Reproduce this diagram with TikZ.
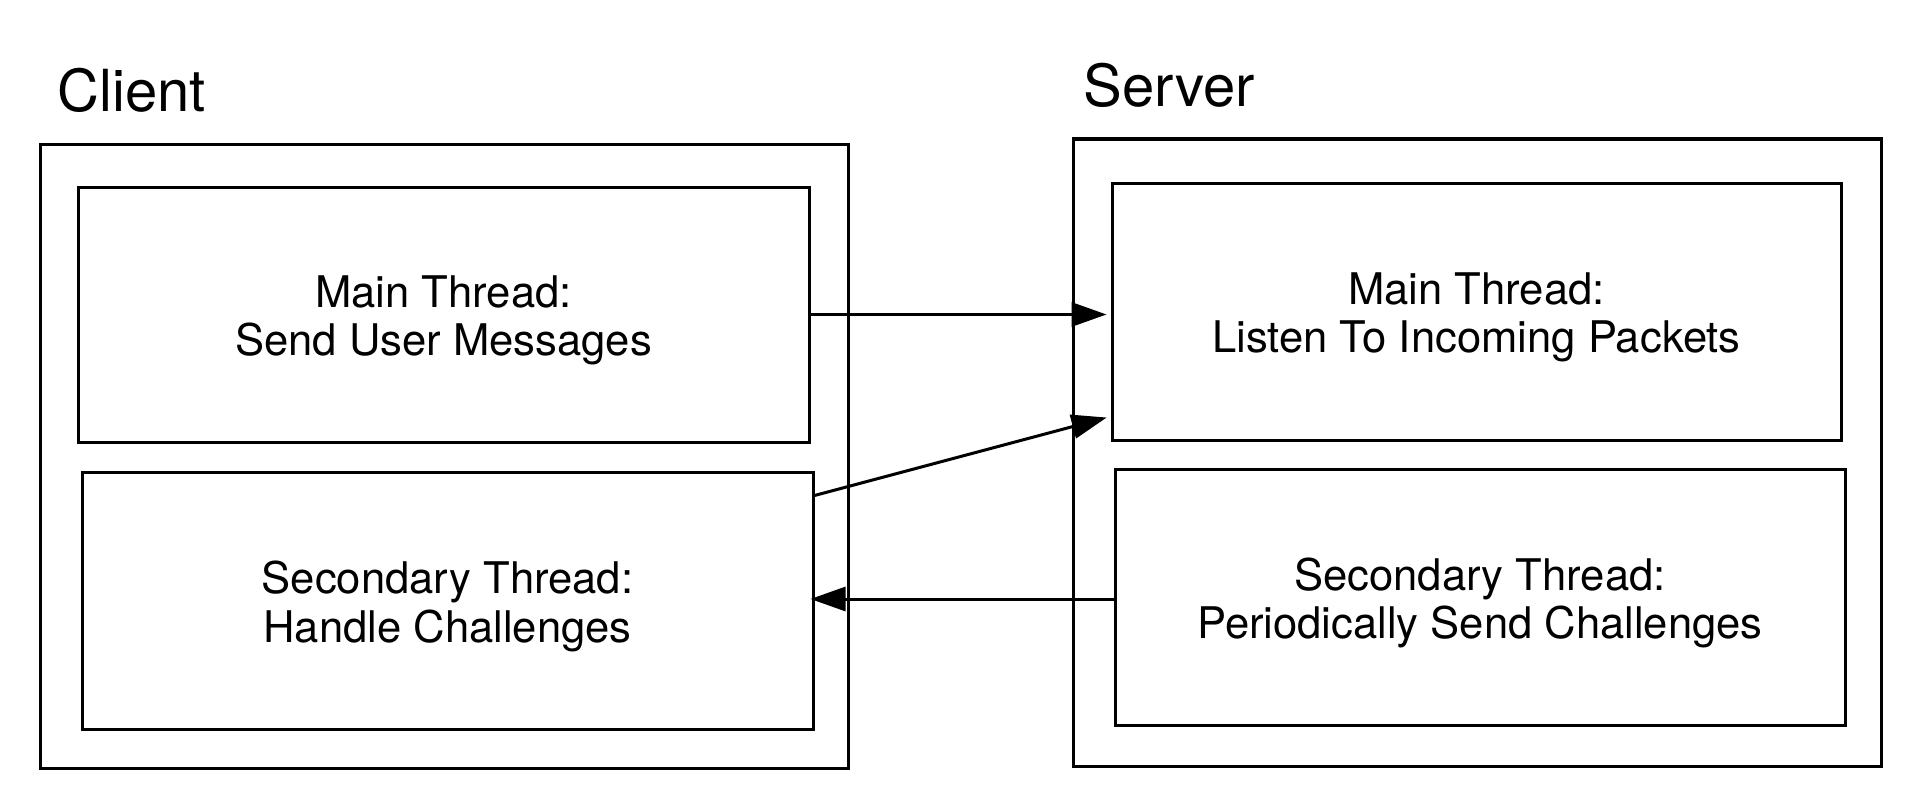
\documentclass[tikz,border=0pt]{standalone}
\usepackage{fontspec}
\setmainfont{TeX Gyre Heros}
\usetikzlibrary{arrows.meta}

\begin{document}
\begin{tikzpicture}[x=0.5pt, y=-0.5pt,
  outerbox/.style={draw, line width=1.5pt, inner sep=0pt, minimum width=404pt},
  threadbox/.style={draw, line width=1.5pt, inner sep=0pt},
  threadtext/.style={align=center, inner sep=0pt, yshift=-3pt,
    font=\fontsize{21.8}{24.2}\selectfont},
  title/.style={anchor=base west, inner sep=0pt, font=\fontsize{29}{31}\selectfont},
  msg/.style={line width=1.5pt, -{Triangle[length=17.5pt, width=12pt]}}]
\useasboundingbox (0,0) rectangle (1921,808);
\node[outerbox, minimum height=312pt] (client) at (444,456) {};
\node[outerbox, minimum height=313.5pt] (server) at (1477,452.5) {};
\node[title] (clientlbl) at (57,112) {Client};
\node[title] (serverlbl) at (1083,107) {Server};
\node[threadbox, minimum width=365.5pt, minimum height=127.5pt] (cmain) at (443.5,314.5) {};
\node[threadbox, minimum width=365.5pt, minimum height=128.5pt] (csec) at (447.5,600.5) {};
\node[threadbox, minimum width=364.5pt, minimum height=128.5pt] (smain) at (1476.5,311.5) {};
\node[threadbox, minimum width=365pt, minimum height=128pt] (ssec) at (1480,597) {};
\node[threadtext] (cmaintxt) at (cmain) {Main Thread:\\Send User Messages};
\node[threadtext] (csectxt) at (csec) {Secondary Thread:\\Handle Challenges};
\node[threadtext] (smaintxt) at (smain) {Main Thread:\\Listen To Incoming Packets};
\node[threadtext] (ssectxt) at (ssec) {Secondary Thread:\\Periodically Send Challenges};
\draw[msg, shorten >=2pt] (cmain.east) -- (smain.west |- cmain.east);
\draw[msg, shorten >=2pt] ([yshift=-12.5pt]csec.north east) -- ([yshift=12.5pt]smain.south west);
\draw[msg, shorten >=-2pt] ([yshift=-1pt]ssec.west) -- ([yshift=-1pt]csec.east |- ssec.west);
\end{tikzpicture}
\end{document}
